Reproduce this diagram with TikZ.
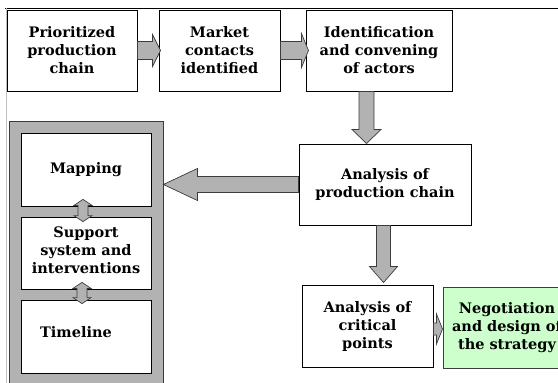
\documentclass[tikz,border=0pt]{standalone}
\usepackage{fontspec}
\setmainfont{DejaVu Serif}
\usetikzlibrary{calc}
\definecolor{arrowgray}{HTML}{B2B2B2}
\definecolor{edgegray}{HTML}{3C3C3C}
\definecolor{palegreen}{HTML}{CCFFCC}
\tikzset{
  boldtext/.style={align=center, inner sep=0pt, font=\bfseries\fontsize{14.5}{18}\selectfont},
  stepbox/.style={boldtext, draw=black, line width=1pt, fill=white},
  blockarrow/.style={draw=edgegray, fill=arrowgray, line width=0.7pt, line join=miter},
}
\begin{document}
\begin{tikzpicture}[x=1pt,y=-1pt]
\useasboundingbox (0,0) rectangle (558,383);
\clip (0,0) rectangle (558,383);

% frame lines
\draw[line width=1pt] (5,8) -- (558,8);
\draw[black!25, line width=0.8pt] (6,8) -- (6,383);

% top row
\node[stepbox, minimum width=130pt, minimum height=81pt] (b1) at (72,50.5) {Prioritized\\production\\chain};
\node[stepbox, minimum width=121pt, minimum height=81pt] (b2) at (219.5,50.5) {Market\\contacts\\identified};
\node[stepbox, minimum width=146pt, minimum height=81pt] (b3) at (379,50.5) {Identification\\and convening\\of actors};

% middle and bottom steps
\node[stepbox, minimum width=172pt, minimum height=81pt] (b4) at (385,184.5) {Analysis of\\production chain};
\node[stepbox, minimum width=131pt, minimum height=82pt] (b6) at (367.5,326) {Analysis of\\critical\\points};
\node[stepbox, fill=palegreen, draw=edgegray, minimum width=128pt, minimum height=81pt] (neg) at (507,327.5) {Negotiation\\and design of\\the strategy};

% grey container with its three parts
\node[draw=edgegray, fill=arrowgray, line width=0.8pt, minimum width=154pt, minimum height=279pt, inner sep=0pt] (cont) at (86,260.5) {};
\node[stepbox, line width=0.8pt, minimum width=130pt, minimum height=73pt] (map) at (86,169.5) {Mapping};
\node[stepbox, line width=0.8pt, minimum width=130pt, minimum height=72pt] (sup) at (86,253) {};
\node[boldtext] at ([yshift=3pt]sup.center) {Support\\system and\\interventions};
\node[stepbox, line width=0.8pt, minimum width=130pt, minimum height=73pt] (tim) at (86,336.5) {};
\node[boldtext] at ([xshift=-10pt,yshift=4pt]tim.center) {Timeline};

% block arrows between the steps
\draw[blockarrow] let \p1=(b1.east), \p2=(b2.west) in
  (\x1,\y1+9) -- (\x2-6,\y1+9) -- (\x2-6,\y1+16) -- (\x2+2,\y1) -- (\x2-6,\y1-16) -- (\x2-6,\y1-9) -- (\x1,\y1-9) -- cycle;
\draw[blockarrow] let \p1=(b2.east), \p2=(b3.west) in
  (\x1,\y1+9) -- (\x2-4,\y1+9) -- (\x2-4,\y1+17) -- (\x2+3,\y1) -- (\x2-4,\y1-17) -- (\x2-4,\y1-9) -- (\x1,\y1-9) -- cycle;
\draw[blockarrow] let \p1=([xshift=-12.5pt]b3.south), \p2=(b4.north) in
  (\x1-7.5,\y1) -- (\x1-7.5,\y2+14) -- (\x1-14.5,\y2+14) -- (\x1,\y2) -- (\x1+14.5,\y2+14) -- (\x1+7.5,\y2+14) -- (\x1+7.5,\y1) -- cycle;
\draw[blockarrow] let \p1=(b4.west), \p2=(cont.east) in
  (\x1,\y1+8) -- (\x2+34,\y1+8) -- (\x2+34,\y1+16) -- (\x2,\y1) -- (\x2+34,\y1-16) -- (\x2+34,\y1-8) -- (\x1,\y1-8) -- cycle;
\draw[blockarrow] let \p1=([xshift=-1.5pt]b4.south), \p2=(b6.north) in
  (\x1-7,\y1) -- (\x1-7,\y2+18) -- (\x1-14,\y2+18) -- (\x1,\y2+2) -- (\x1+14,\y2+18) -- (\x1+7,\y2+18) -- (\x1+7,\y1) -- cycle;
\draw[blockarrow] let \p1=(b6.east), \p2=(neg.west), \n1={\y1-3pt} in
  (\x1,\n1+6) -- (\x2-6,\n1+6) -- (\x2-6,\n1+15) -- (\x2,\n1) -- (\x2-6,\n1-15) -- (\x2-6,\n1-6) -- (\x1,\n1-6) -- cycle;

% double arrows inside the container
\draw[blockarrow] let \p1=([xshift=-3pt]map.south), \p2=(sup.north), \n1={\y1+7pt}, \n2={\y2-5pt} in
  (\x1,\n1) -- (\x1+9,\n1-6) -- (\x1+5,\n1-6) -- (\x1+5,\n2+6) -- (\x1+9,\n2+6) -- (\x1,\n2)
  -- (\x1-9,\n2+6) -- (\x1-5,\n2+6) -- (\x1-5,\n1-6) -- (\x1-9,\n1-6) -- cycle;
\draw[blockarrow] let \p1=([xshift=-4pt]sup.south), \p2=(tim.north), \n1={\y1+7pt}, \n2={\y2-4pt} in
  (\x1,\n1) -- (\x1+9,\n1-6) -- (\x1+5,\n1-6) -- (\x1+5,\n2+6) -- (\x1+9,\n2+6) -- (\x1,\n2)
  -- (\x1-9,\n2+6) -- (\x1-5,\n2+6) -- (\x1-5,\n1-6) -- (\x1-9,\n1-6) -- cycle;
\end{tikzpicture}
\end{document}
